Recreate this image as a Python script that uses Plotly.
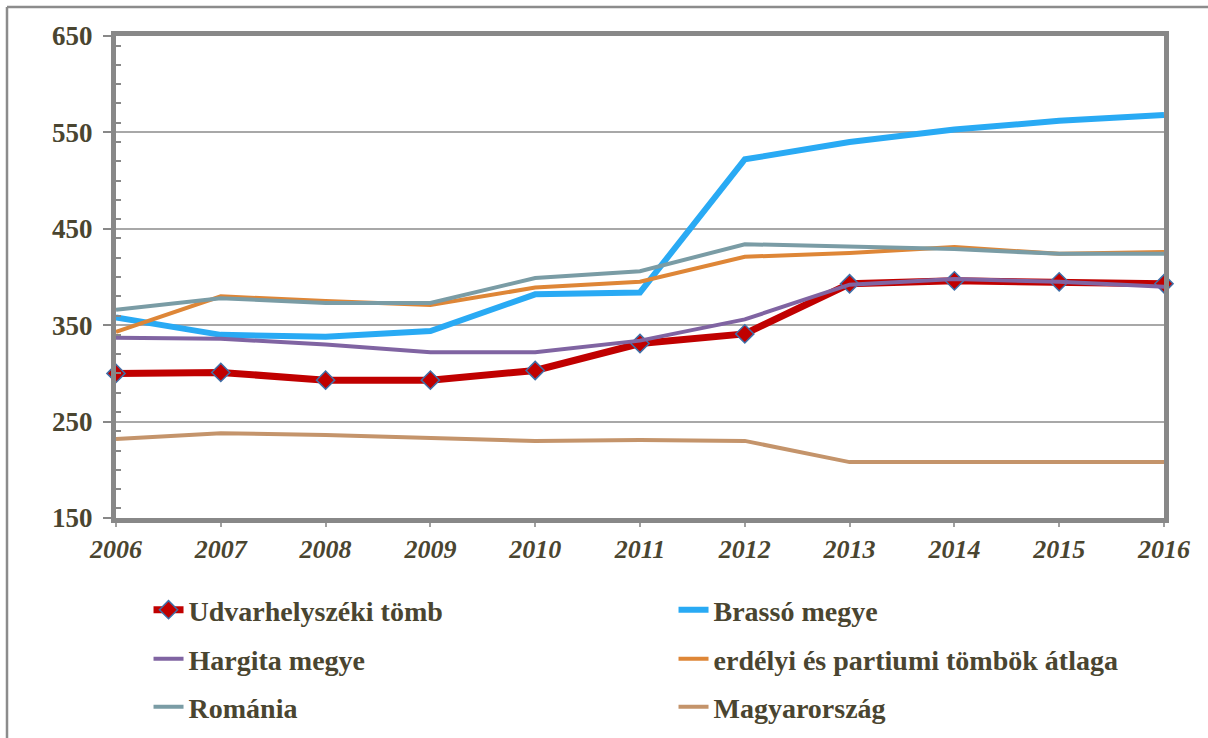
import plotly.graph_objects as go

years = [2006, 2007, 2008, 2009, 2010, 2011, 2012, 2013, 2014, 2015, 2016]
udvarhely = [300, 301, 293, 293, 303, 331, 341, 393, 396, 395, 393]
brasso = [358, 340, 338, 344, 382, 384, 522, 540, 553, 562, 568]
hargita = [337, 336, 330, 322, 322, 334, 356, 392, 398, 395, 390]
erdelyi = [343, 380, 375, 371, 389, 395, 421, 425, 431, 424, 426]
romania = [366, 378, 373, 373, 399, 406, 434, 431, 429, 424, 424]
magyar = [232, 238, 236, 233, 230, 231, 230, 208, 208, 209, 208]
y_ticks = [150, 250, 350, 450, 550, 650]

FONT = "Liberation Serif"
TXT = "#4a4530"

series = [
    ("Udvarhelyszéki tömb", udvarhely, "#c00000", 7, "legend"),
    ("Brassó megye", brasso, "#29aaf4", 6, "legend"),
    ("Hargita megye", hargita, "#8064a2", 4, "legend2"),
    ("erdélyi és partiumi tömbök átlaga", erdelyi, "#de8637", 4, "legend2"),
    ("Románia", romania, "#7a9ca5", 4, "legend3"),
    ("Magyarország", magyar, "#c4946b", 4, "legend3"),
]

fig = go.Figure()
for name, vals, col, w, lg in series:
    if name.startswith("Udvar"):
        kw = dict(mode="lines+markers",
                  marker=dict(symbol="diamond", size=14, color="#c00000",
                              line=dict(color="#3e6fa8", width=1.5)))
    else:
        kw = dict(mode="lines")
    fig.add_trace(go.Scatter(x=years, y=vals, name=name, legend=lg,
                             line=dict(color=col, width=w),
                             cliponaxis=False, **kw))

leg_common = dict(orientation="h", xanchor="left", yanchor="middle",
                  entrywidth=480, entrywidthmode="pixels",
                  font=dict(family=FONT, size=28, color=TXT, weight="bold"),
                  bgcolor="rgba(0,0,0,0)", itemclick=False)
x_leg = (132 - 116) / 1048 - 0.01 + 27 / 1048

fig.update_layout(
    width=1208, height=738,
    margin=dict(l=116, r=44, t=36, b=220, autoexpand=False),
    paper_bgcolor="white", plot_bgcolor="white",
    showlegend=True,
    legend=dict(x=x_leg, y=(518 - 610) / 482, **leg_common),
    legend2=dict(x=x_leg, y=(518 - 659) / 482, **leg_common),
    legend3=dict(x=x_leg, y=(518 - 707) / 482, **leg_common),
    xaxis=dict(range=[2006, 2016], tickmode="array", tickvals=years,
               ticktext=[str(y) for y in years], automargin=False,
               showgrid=False, zeroline=False,
               showline=True, linewidth=5, linecolor="#888888", mirror=True,
               ticks="outside", ticklen=4, tickwidth=2, tickcolor="#a0a0a0",
               tickfont=dict(family=FONT, size=26, color=TXT, weight="bold", style="italic")),
    yaxis=dict(range=[150, 650], tickmode="array", tickvals=y_ticks,
               automargin=False, ticklabelstandoff=5,
               showgrid=True, gridcolor="#a8a8a8", gridwidth=2, zeroline=False,
               showline=True, linewidth=5, linecolor="#888888", mirror=True,
               ticks="outside", ticklen=8, tickwidth=2, tickcolor="#888888",
               minor=dict(dtick=20, ticks="inside", ticklen=5, tickwidth=1.5,
                          tickcolor="#888888", showgrid=False),
               tickfont=dict(family=FONT, size=27, color=TXT, weight="bold")),
    shapes=[
        dict(type="line", xref="paper", yref="paper",
             x0=(7 - 116) / 1048, x1=(1220 - 116) / 1048,
             y0=(518 - 7) / 482, y1=(518 - 7) / 482,
             line=dict(color="#8c8c8c", width=2.5)),
        dict(type="line", xref="paper", yref="paper",
             x0=(7 - 116) / 1048, x1=(7 - 116) / 1048,
             y0=(518 - 7) / 482, y1=(518 - 750) / 482,
             line=dict(color="#8c8c8c", width=2.5)),
    ],
)

fig.write_html("out.html", config={"displayModeBar": False},
               post_script="document.body.style.margin='0';document.body.style.overflow='hidden';")
